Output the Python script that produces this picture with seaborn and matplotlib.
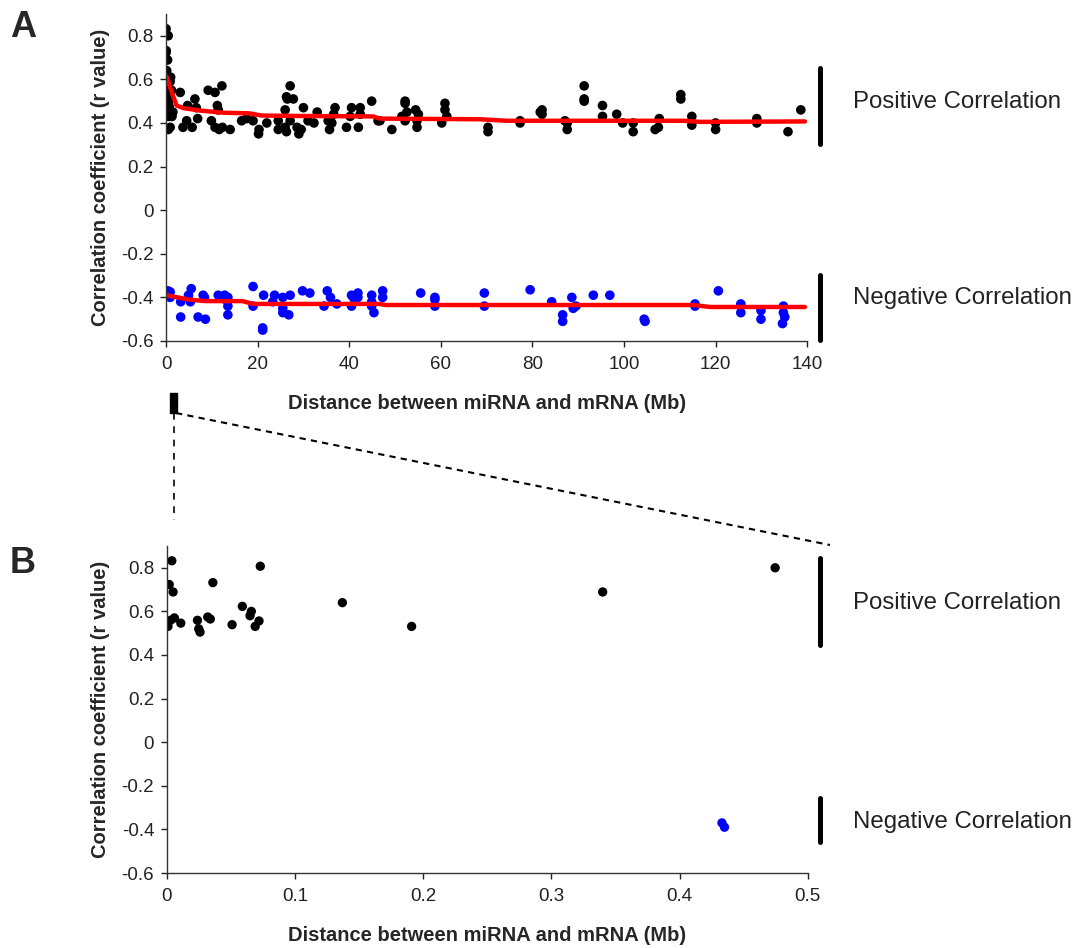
import matplotlib
matplotlib.use("Agg")
import matplotlib.pyplot as plt
import seaborn as sns
from matplotlib.lines import Line2D
from matplotlib.patches import Rectangle

# ---- data (Mb, r) ----
# panel B: pairs closer than 0.5 Mb
pos_b_x = [0.001, 0.002, 0.003, 0.004, 0.005, 0.006, 0.011, 0.024, 0.025, 0.026, 0.032, 0.034,
           0.036, 0.051, 0.059, 0.065, 0.066, 0.069, 0.072, 0.073, 0.137, 0.191, 0.340, 0.4745]
pos_b_y = [0.531, 0.723, 0.559, 0.832, 0.689, 0.570, 0.546, 0.559, 0.520, 0.505, 0.574, 0.565,
           0.732, 0.539, 0.623, 0.580, 0.600, 0.531, 0.556, 0.807, 0.640, 0.531, 0.689, 0.800]
neg_b_x = [0.433, 0.435]
neg_b_y = [-0.37, -0.39]

# panel A: the rest of the positive pairs
pos_far_x = [0.6, 0.7, 0.8, 0.6, 0.5, 0.9, 1.0, 0.7, 1.2,
             3.1, 1.5, 1.3, 0.9, 3.7, 4.5, 4.7, 5.7, 6.3, 6.6, 6.9, 9.2, 10.7, 12.2, 11.2, 11.4,
             9.9, 10.7, 11.6, 12.3, 14.0, 16.5, 17.6, 19.0, 20.2, 20.3, 22.0, 24.5, 24.5, 26.0,
             26.3, 27.1, 26.5, 27.8, 26.0, 26.3, 27.1, 28.6, 29.5, 29.0, 30.0, 31.0, 33.0, 32.3,
             35.4, 35.7, 36.6, 36.9, 36.2, 39.4, 40.5, 40.2, 42.4, 42.0, 42.4, 44.9, 46.3, 46.7,
             49.3, 51.5, 52.2, 52.2, 52.6, 52.2, 54.5, 54.8, 54.8, 55.1, 60.2, 60.9, 60.9, 61.3,
             70.3, 70.3, 77.3, 77.3, 81.7, 82.1, 82.1, 87.1, 87.6, 87.6, 91.3, 91.3, 91.3, 95.3,
             95.3, 98.4, 99.7, 102.0, 102.0, 106.8, 107.5, 107.7, 112.4, 112.4, 114.8, 114.8,
             120.0, 120.0, 129.0, 129.0, 135.8, 138.6]
pos_far_y = [0.50, 0.475, 0.45, 0.43, 0.37, 0.59, 0.61, 0.52, 0.55,
             0.54, 0.45, 0.43, 0.38, 0.38, 0.41, 0.48, 0.38, 0.51, 0.47, 0.42, 0.55, 0.54, 0.57, 0.48, 0.46,
             0.41, 0.38, 0.37, 0.38, 0.37, 0.41, 0.42, 0.41, 0.35, 0.37, 0.40, 0.41, 0.37, 0.46,
             0.52, 0.57, 0.51, 0.51, 0.38, 0.36, 0.41, 0.38, 0.37, 0.35, 0.47, 0.41, 0.45, 0.40,
             0.41, 0.37, 0.44, 0.47, 0.40, 0.38, 0.47, 0.43, 0.47, 0.38, 0.44, 0.50, 0.41, 0.41,
             0.37, 0.43, 0.50, 0.49, 0.45, 0.41, 0.46, 0.41, 0.38, 0.44, 0.40, 0.49, 0.46, 0.43,
             0.38, 0.36, 0.41, 0.40, 0.45, 0.46, 0.44, 0.41, 0.37, 0.40, 0.57, 0.51, 0.50, 0.48,
             0.43, 0.44, 0.40, 0.40, 0.36, 0.37, 0.38, 0.42, 0.53, 0.51, 0.43, 0.39,
             0.40, 0.37, 0.42, 0.40, 0.36, 0.46]

neg_far_x = [0.9, 0.9, 3.2, 3.2, 4.9, 5.5, 5.3, 7.0, 8.1, 8.4, 8.6, 11.4, 12.8, 13.5, 13.5, 13.5,
             13.0, 19.0, 19.0, 21.1, 21.1, 21.3, 23.7, 23.3, 25.5, 25.5, 25.5, 26.8, 27.1, 29.8,
             31.4, 34.5, 35.2, 35.9, 37.3, 40.5, 40.5, 40.9, 41.9, 41.9, 44.9, 44.9, 44.9, 45.4,
             47.3, 47.3, 55.6, 58.7, 58.7, 58.7, 69.5, 69.5, 79.5, 84.2, 86.6, 86.6, 88.6, 88.9,
             89.5, 93.3, 96.9, 104.4, 104.6, 115.5, 115.5, 120.6, 125.5, 125.5, 129.9, 129.9,
             134.8, 134.8, 135.1, 134.6]
neg_far_y = [-0.375, -0.40, -0.42, -0.49, -0.39, -0.36, -0.42, -0.49, -0.39, -0.40, -0.50, -0.39,
             -0.39, -0.40, -0.44, -0.48, -0.41, -0.35, -0.44, -0.54, -0.55, -0.39, -0.39, -0.42,
             -0.40, -0.45, -0.47, -0.48, -0.39, -0.37, -0.38, -0.44, -0.37, -0.40, -0.43, -0.39,
             -0.44, -0.40, -0.38, -0.40, -0.39, -0.42, -0.44, -0.47, -0.37, -0.40, -0.38, -0.40,
             -0.44, -0.41, -0.38, -0.44, -0.365, -0.42, -0.48, -0.51, -0.40, -0.45, -0.44, -0.39,
             -0.39, -0.50, -0.51, -0.43, -0.44, -0.37, -0.43, -0.47, -0.46, -0.50, -0.44, -0.47,
             -0.49, -0.52]

# running averages (red lines)
trend_pos_x = [0.1, 1.2, 2.3, 3.8, 7.4, 12.4, 18.2, 20.9, 29.0, 45.2, 46.7, 68.6, 74.4, 113.0, 116.6, 139.5]
trend_pos_y = [0.613, 0.544, 0.48, 0.468, 0.457, 0.447, 0.444, 0.434, 0.432, 0.43, 0.42, 0.417, 0.41, 0.41, 0.405, 0.407]
trend_neg_x = [0.2, 4.9, 8.6, 16.7, 19.0, 46.5, 48.0, 115.0, 118.8, 139.5]
trend_neg_y = [-0.39, -0.41, -0.417, -0.417, -0.43, -0.43, -0.435, -0.435, -0.444, -0.444]

yticks = [-0.6, -0.4, -0.2, 0, 0.2, 0.4, 0.6, 0.8]
xticks_a = [0, 20, 40, 60, 80, 100, 120, 140]
xticks_b = [0, 0.1, 0.2, 0.3, 0.4, 0.5]

sns.set_style("ticks")
plt.rcParams['font.family'] = ['Liberation Sans', 'DejaVu Sans']
plt.rcParams['axes.unicode_minus'] = False

fig = plt.figure(figsize=(10.74, 9.48), dpi=100)
ax_a = fig.add_axes([0.1546, 0.6403, 0.597, 0.345])
ax_b = fig.add_axes([0.1552, 0.0791, 0.597, 0.345])

# panel A
sns.scatterplot(x=pos_b_x + pos_far_x, y=pos_b_y + pos_far_y, color="black", s=48,
                edgecolor="none", ax=ax_a, legend=False)
sns.scatterplot(x=neg_b_x + neg_far_x, y=neg_b_y + neg_far_y, color="#0000ff", s=48,
                edgecolor="none", ax=ax_a, legend=False)
sns.lineplot(x=trend_pos_x, y=trend_pos_y, color="red", lw=3.2, ax=ax_a, sort=False, estimator=None)
sns.lineplot(x=trend_neg_x, y=trend_neg_y, color="red", lw=3.2, ax=ax_a, sort=False, estimator=None)

# panel B
sns.scatterplot(x=pos_b_x, y=pos_b_y, color="black", s=45, edgecolor="none", ax=ax_b, legend=False)
sns.scatterplot(x=neg_b_x, y=neg_b_y, color="#0000ff", s=45, edgecolor="none", ax=ax_b, legend=False)

for ax, xt, xmax in [(ax_a, xticks_a, 140), (ax_b, xticks_b, 0.5)]:
    ax.set_xlim(0, xmax)
    ax.set_ylim(-0.6, 0.9)
    ax.set_yticks(yticks)
    ax.set_yticklabels(["{:g}".format(v) for v in yticks])
    ax.set_xticks(xt)
    ax.set_xticklabels(["{:g}".format(v) for v in xt])
    ax.tick_params(direction="out", length=4, width=1, labelsize=13.5, colors="#222222", pad=5)
    ax.tick_params(axis="x", pad=7)
    sns.despine(ax=ax)
    for sp in ["left", "bottom"]:
        ax.spines[sp].set_color("#333333")
        ax.spines[sp].set_linewidth(1)
    ax.set_xlabel("Distance between miRNA and mRNA (Mb)", fontsize=14.5, fontweight="bold", labelpad=15)
    ax.set_ylabel("Correlation coefficient (r value)", fontsize=14.5, fontweight="bold", labelpad=8)

# panel letters
fig.text(0.009, 0.961, "A", fontsize=26, fontweight="bold", va="baseline")
fig.text(0.009, 0.3956, "B", fontsize=26, fontweight="bold", va="baseline")

# side brackets and labels
bars = [(0.9283, 0.8481), (0.7099, 0.6414), (0.4114, 0.3196), (0.1582, 0.1118)]
for y0, y1 in bars:
    fig.add_artist(Line2D([0.7635, 0.7635], [y0, y1], color="black", lw=3.6))
labels = [(0.8924, "Positive Correlation"), (0.6857, "Negative Correlation"),
          (0.3639, "Positive Correlation"), (0.1329, "Negative Correlation")]
for y, t in labels:
    fig.text(0.7942, y, t, fontsize=17.3, va="center", color="#222222")

# zoom marker connecting A and B
fig.add_artist(Rectangle((0.1583, 0.5643), 0.0065, 0.0211, color="black"))
fig.add_artist(Line2D([0.162, 0.162], [0.5643, 0.4515], color="black", lw=1.2, ls=(0, (4, 4))))
fig.add_artist(Line2D([0.1639, 0.7728], [0.5643, 0.4251], color="black", lw=1.5, ls=(0, (3, 2.5))))

plt.savefig("out.png", dpi=100)
